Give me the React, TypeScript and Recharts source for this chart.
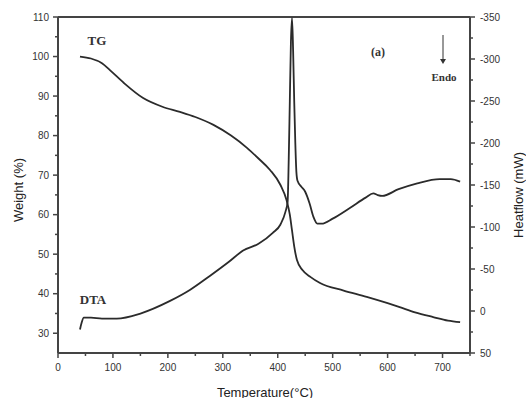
import { LineChart, Line, XAxis, YAxis, ReferenceLine } from 'recharts';

const tgTemp = [40, 60, 80, 95, 120, 155, 190, 222, 250, 283, 315, 344, 365, 386, 405, 416, 422, 426, 430, 435, 445, 460, 477, 520, 562, 600, 622, 650, 683, 710, 732];
const tgWeight = [100, 99.5, 98.3, 96.5, 93.3, 89.5, 87.3, 86, 84.7, 82.7, 80, 76.9, 74.2, 71.3, 67.5, 63.7, 60, 56, 52, 48.5, 46, 44.2, 42.7, 40.8, 39.2, 37.6, 36.6, 35.3, 34.1, 33.2, 32.8];

const dtaTemp = [40, 43, 47, 60, 80, 107, 150, 204, 240, 277, 310, 337, 365, 391, 405, 414, 418, 420, 422, 424, 426, 428, 430, 432, 434, 436, 443, 450, 458, 465, 472, 480, 500, 532, 560, 574, 582, 590, 620, 654, 695, 715, 732];
const dtaHeat = [22, 14, 8, 8, 9, 9, 3, -12, -25, -42, -58, -72, -80, -93, -103, -118, -130, -180, -250, -320, -349, -310, -250, -200, -165, -155, -148, -142, -128, -112, -104, -104, -110, -123, -135, -140, -138, -137, -145, -152, -157, -157, -154];

const weightTicks = [30, 35, 40, 45, 50, 55, 60, 65, 70, 75, 80, 85, 90, 95, 100, 105, 110];
const heatTicks = [-350, -325, -300, -275, -250, -225, -200, -175, -150, -125, -100, -75, -50, -25, 0, 25, 50];
const tempTicks = [0, 50, 100, 150, 200, 250, 300, 350, 400, 450, 500, 550, 600, 650, 700, 750];

const tgData = tgTemp.map((t, i) => ({ t, w: tgWeight[i] }));
const dtaData = dtaTemp.map((t, i) => ({ t, h: dtaHeat[i] }));

const ink = '#2b2b2b';
const axisColor = '#444';
const tickFont = { fontFamily: '"Liberation Sans", Arial, sans-serif', fontSize: 10, fill: '#333' };

const LeftTick = (props: any) => {
  const { x, y, payload } = props;
  const major = payload.value % 10 === 0;
  const ax = x + 8;
  return <g>
    <line x1={ax} x2={ax - (major ? 5 : 3)} y1={y} y2={y} stroke={axisColor} strokeWidth={1.5} />
    {major && <text x={x - 1} y={y} textAnchor="end" dominantBaseline="central" {...tickFont}>{payload.value}</text>}
  </g>;
};

const RightTick = (props: any) => {
  const { x, y, payload } = props;
  const major = payload.value % 50 === 0;
  const ax = x - 8;
  return <g>
    <line x1={ax} x2={ax + (major ? 5 : 3)} y1={y} y2={y} stroke={axisColor} strokeWidth={1.5} />
    {major && <text x={x + 2} y={y} textAnchor="start" dominantBaseline="central" {...tickFont}>{payload.value}</text>}
  </g>;
};

const BottomTick = (props: any) => {
  const { x, y, payload } = props;
  const major = payload.value % 100 === 0;
  const ay = y - 8;
  return <g>
    <line x1={x} x2={x} y1={ay} y2={ay + (major ? 5 : 3)} stroke={axisColor} strokeWidth={1.5} />
    {major && payload.value < 750 && <text x={x} y={y + 3} textAnchor="middle" dominantBaseline="hanging" {...tickFont}>{payload.value}</text>}
  </g>;
};

const serif = '"Liberation Serif", "Times New Roman", serif';
const sans = '"Liberation Sans", Arial, sans-serif';

export default function App() {
  return <div style={{ position: 'absolute', left: 0, top: 0, width: 526, height: 398, background: '#fff' }}>
    <LineChart width={526} height={398} margin={{ top: 17, right: 16, bottom: 15, left: 0 }}>
      <XAxis type="number" dataKey="t" domain={[0, 750]} ticks={tempTicks} interval={0}
        tick={<BottomTick />} tickLine={false} tickSize={5} tickMargin={3} height={30}
        axisLine={{ stroke: axisColor, strokeWidth: 2 }} allowDuplicatedCategory={false} />
      <YAxis yAxisId="w" orientation="left" domain={[25, 110]} ticks={weightTicks} interval={0}
        tick={<LeftTick />} tickLine={false} tickSize={5} tickMargin={3} width={58}
        axisLine={{ stroke: axisColor, strokeWidth: 2 }} />
      <YAxis yAxisId="h" orientation="right" domain={[-350, 50]} reversed ticks={heatTicks} interval={0}
        tick={<RightTick />} tickLine={false} tickSize={5} tickMargin={3} width={40}
        axisLine={{ stroke: axisColor, strokeWidth: 2 }} />
      <ReferenceLine yAxisId="w" y={110} stroke={axisColor} strokeWidth={2} />
      <Line yAxisId="w" data={tgData} dataKey="w" type="monotone" stroke={ink} strokeWidth={1.8} dot={false} isAnimationActive={false} />
      <Line yAxisId="h" data={dtaData} dataKey="h" type="monotone" stroke={ink} strokeWidth={1.8} dot={false} isAnimationActive={false} />
    </LineChart>
    <svg width={526} height={398} style={{ position: 'absolute', left: 0, top: 0, pointerEvents: 'none' }}>
      <text x={97} y={40} textAnchor="middle" dominantBaseline="central" fontFamily={serif} fontWeight="bold" fontSize={13} fill="#333">TG</text>
      <text x={93} y={299} textAnchor="middle" dominantBaseline="central" fontFamily={serif} fontWeight="bold" fontSize={13} fill="#333">DTA</text>
      <text x={378} y={52} textAnchor="middle" dominantBaseline="central" fontFamily={serif} fontWeight="bold" fontSize={12} fill="#333">(a)</text>
      <text x={444} y={77} textAnchor="middle" dominantBaseline="central" fontFamily={serif} fontWeight="bold" fontSize={11} fill="#333">Endo</text>
      <line x1={443} x2={443} y1={35} y2={62} stroke="#333" strokeWidth={1} />
      <path d="M440,59 L443,64 L446,59 Z" fill="#333" />
      <text transform="translate(18,190) rotate(-90)" textAnchor="middle" dominantBaseline="central" fontFamily={sans} fontSize={13} fill="#222">Weight (%)</text>
      <text transform="translate(518,195) rotate(-90)" textAnchor="middle" dominantBaseline="central" fontFamily={sans} fontSize={13} fill="#222">Heatflow (mW)</text>
      <text x={265} y={392} textAnchor="middle" dominantBaseline="central" fontFamily={sans} fontSize={13} fill="#222">Temperature(°C)</text>
    </svg>
  </div>;
}
